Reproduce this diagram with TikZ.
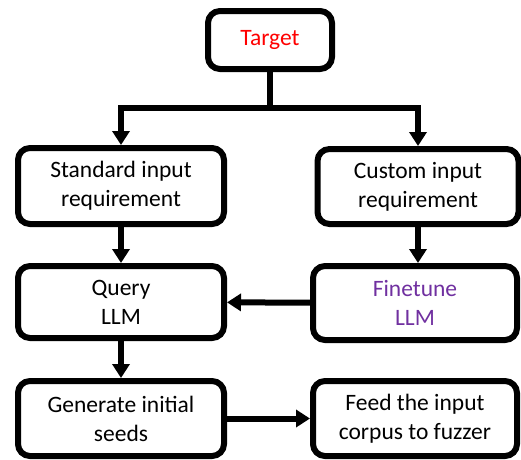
\documentclass[tikz,border=0pt]{standalone}
\usepackage{fontspec}
\setmainfont{Carlito}
\usetikzlibrary{arrows.meta}
\definecolor{targetred}{RGB}{255,0,0}
\definecolor{tunepurple}{RGB}{112,48,160}

\begin{document}
\begin{tikzpicture}[x=1pt, y=-1pt,
  box/.style={draw, line width=6pt, rounded corners=12pt, align=center,
    inner sep=0pt, font=\fontsize{23.5}{29}\selectfont},
  flow/.style={line width=6pt, -{Triangle[width=17pt,length=14pt]}}]
  \useasboundingbox (0,0) rectangle (521,459);
  \node[box, minimum width=124pt, minimum height=58pt, text=targetred] (target) at (270,40) {Target};
  \node[box, minimum width=206pt, minimum height=76pt] (standard) at (121,186) {Standard input\\requirement};
  \node[box, minimum width=201pt, minimum height=75pt] (custom) at (418,186.5) {Custom input\\requirement};
  \node[box, minimum width=206pt, minimum height=72pt] (query) at (121,302) {Query\\LLM};
  \node[box, minimum width=204pt, minimum height=74pt, text=tunepurple] (finetune) at (415,303) {Finetune\\LLM};
  \node[box, minimum width=206pt, minimum height=75pt] (generate) at (121,418.5) {Generate initial\\seeds};
  \node[box, minimum width=204pt, minimum height=75pt] (feed) at (415,418.5) {Feed the input\\corpus to fuzzer};
  \coordinate (split) at (270,108);
  \draw[line width=6pt] (target.south) -- (split);
  \draw[flow] (split) -| (standard.north);
  \draw[flow] (split) -| (custom.north);
  \draw[flow] (standard) -- (query);
  \draw[flow] (custom) -- (custom |- finetune.north);
  \draw[flow] (finetune) -- (query);
  \draw[flow] (query) -- (generate);
  \draw[flow] (generate) -- (feed);
\end{tikzpicture}
\end{document}
